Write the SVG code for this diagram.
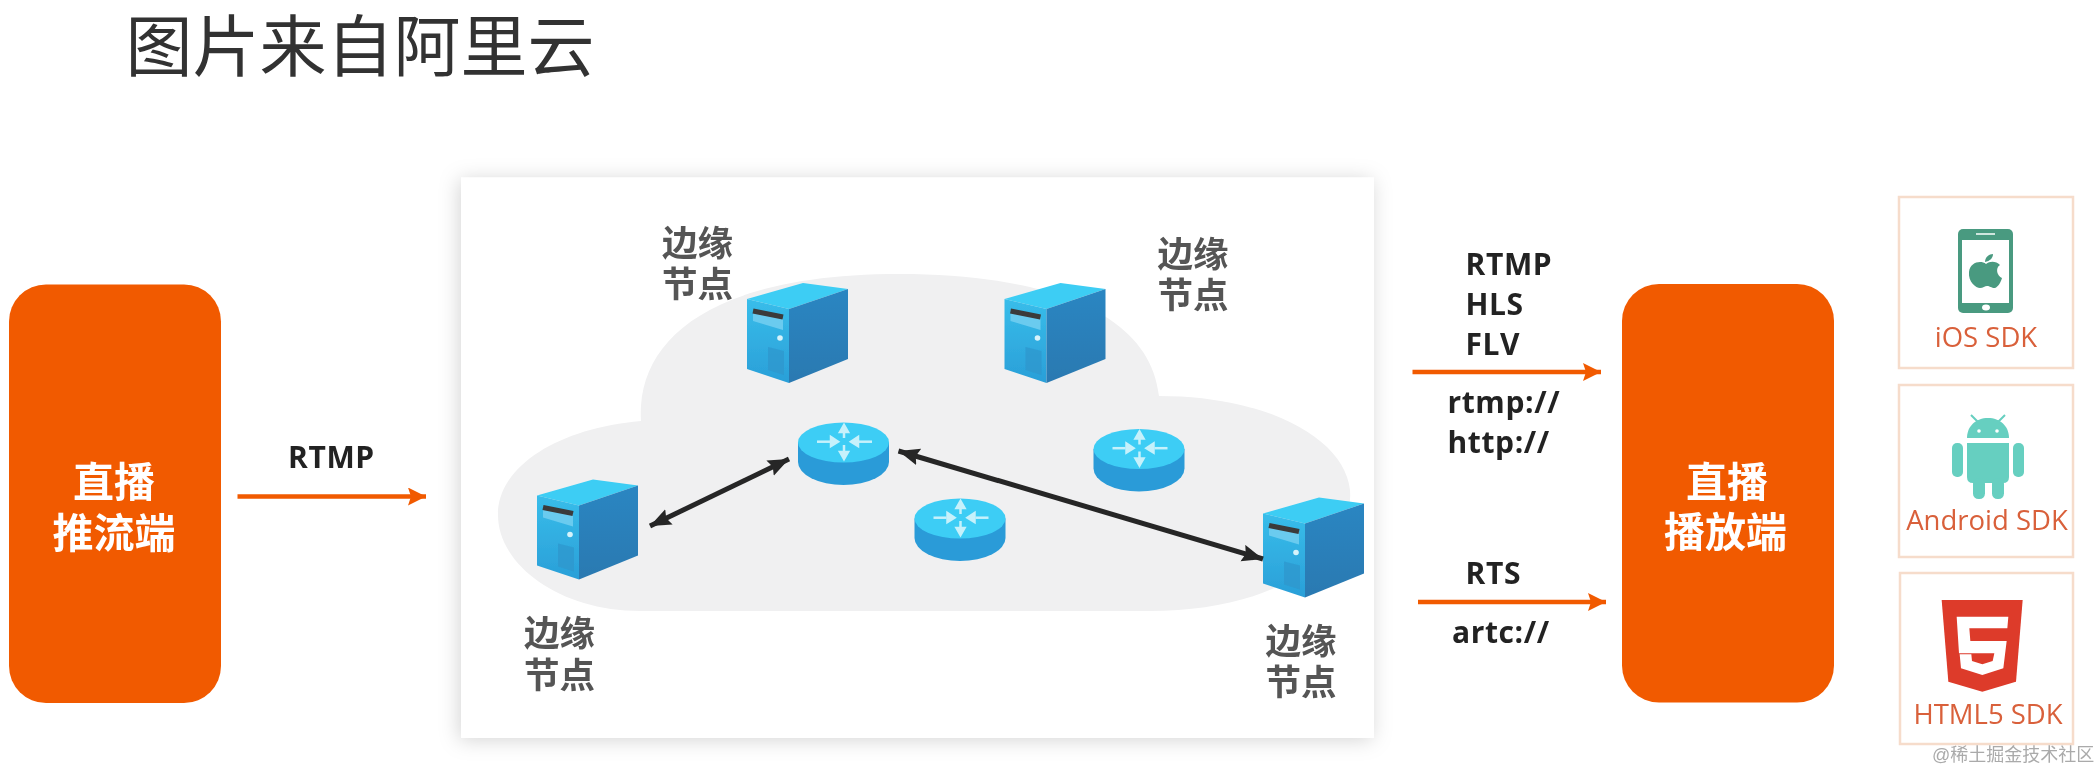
<svg xmlns="http://www.w3.org/2000/svg" xmlns:xlink="http://www.w3.org/1999/xlink" width="2098" height="771" viewBox="0 0 2098 771">
<style>
text{font-family:"Liberation Sans","Noto Sans CJK SC",sans-serif}
.title{font-size:67px;fill:#333}
.side{font-size:41px;font-weight:700;fill:#fff;text-anchor:middle}
.edge{font-size:35.5px;font-weight:700;fill:#555;text-anchor:middle}
.proto{font-family:"Open Sans","Noto Sans",sans-serif;font-size:30px;font-weight:700;fill:#222;letter-spacing:.6px}
.sdk{font-family:"Open Sans","Noto Sans",sans-serif;font-size:27.5px;font-weight:500;fill:#d9603a;text-anchor:middle}
.box{fill:#f15a06}
.card{fill:#fff;stroke:#f6dccb;stroke-width:2.5}
.orange{stroke:#f15a06;stroke-width:4.5;fill:none}
.dark{stroke:#262626;stroke-width:5;fill:none}
</style>
<defs>
<filter id="soft" x="-2%" y="-2%" width="104%" height="104%"><feGaussianBlur stdDeviation="0.6"/></filter>
<filter id="shadow" x="-8%" y="-8%" width="116%" height="116%"><feDropShadow dx="-2" dy="2" stdDeviation="10" flood-color="#000" flood-opacity="0.17"/></filter>
<linearGradient id="front" x1="0" y1="0" x2="0" y2="1"><stop offset="0" stop-color="#38bdea"/><stop offset="1" stop-color="#2a9fd8"/></linearGradient>
<linearGradient id="side" x1="0" y1="0" x2="0" y2="1"><stop offset="0" stop-color="#2b86c2"/><stop offset="1" stop-color="#2a79b1"/></linearGradient>
<marker id="oh" markerUnits="userSpaceOnUse" markerWidth="20" markerHeight="20" refX="18" refY="9" orient="auto"><path d="M0 0L18 9L0 18L3 9Z" fill="#f15a06"/></marker>
<marker id="dh" markerUnits="userSpaceOnUse" markerWidth="24" markerHeight="18" refX="21" refY="8.500" orient="auto-start-reverse"><path d="M0 0L21 8.500L0 17L3 8.500Z" fill="#262626"/></marker>
<g id="server">
<path d="M0 16L56 0L101 6L42 26Z" fill="#3ccdf4"/>
<path d="M0 16L42 26V100L0 86Z" fill="url(#front)"/>
<path d="M42 26L101 6V76L42 100Z" fill="url(#side)"/>
<path d="M6 27L36 34V47L6 38Z" fill="#6bcbef"/>
<path d="M6 28L36 34" stroke="#3a3a3a" stroke-width="5"/>
<circle cx="33" cy="55" r="2.800" fill="#d6f3fb"/>
<path d="M21 64L37 68V92L21 87Z" fill="#2f96cc" opacity=".7"/>
</g>
<g id="router">
<path d="M798 442.500V462A45.500 23 0 0 0 889 462V442.500Z" fill="#2a9bd8"/>
<ellipse cx="843.500" cy="442.500" rx="45.500" ry="20" fill="#3dcdf5"/>
<g fill="#c6f1fb" stroke="#c6f1fb" stroke-width="2.500">
<path d="M817 441.700H830" /><path d="M831 437L838 441.700L831 446Z"/>
<path d="M872 441.700H859" /><path d="M858 437L851 441.700L858 446Z"/>
<path d="M844 438V431" /><path d="M840 432L844 425L848 432Z"/>
<path d="M844 445V452" /><path d="M840 452L844 459L848 452Z"/>
</g>
</g>
</defs>
<rect width="2098" height="771" fill="#fff"/>
<g filter="url(#soft)">
<text class="title" x="125.500" y="71">图片来自阿里云</text>

<g id="push">
<rect class="box" x="9" y="284.500" width="212" height="418.500" rx="37"/>
<text class="side" x="114" y="497">直播<tspan x="114" dy="51">推流端</tspan></text>
</g>

<g id="cdn">
<rect x="461" y="177.500" width="913" height="560.500" fill="#fff" filter="url(#shadow)"/>
<path d="M641 421C636 340 710 274 900 274C1040 274 1150 310 1159 396C1270 396 1345 440 1350 490C1355 560 1270 611 1150 611H640C560 611 498 565 498 515C498 465 560 428 641 421Z" fill="#f0f0f1"/>
</g>

<g id="node-top-left"><use href="#server" x="747" y="283"/><text class="edge" x="697.500" y="256">边缘<tspan x="697.500" dy="41">节点</tspan></text></g>
<g id="node-top-right"><use href="#server" x="1004.500" y="283"/><text class="edge" x="1193" y="267">边缘<tspan x="1193" dy="41">节点</tspan></text></g>
<g id="node-left"><use href="#server" x="537" y="479.500"/><text class="edge" x="559.500" y="646">边缘<tspan x="559.500" dy="42">节点</tspan></text></g>
<g id="node-right"><use href="#server" x="1263" y="497.500"/><text class="edge" x="1301" y="654">边缘<tspan x="1301" dy="41">节点</tspan></text></g>

<g id="router-1"><use href="#router"/></g>
<g id="router-2"><use href="#router" x="295.500" y="6.500"/></g>
<g id="router-3"><use href="#router" x="116.500" y="76"/></g>

<g id="connectors">
<path class="orange" d="M237.500 496.500H426" marker-end="url(#oh)"/>
<path class="orange" d="M1412.500 372H1601" marker-end="url(#oh)"/>
<path class="orange" d="M1418 602H1606" marker-end="url(#oh)"/>
<path class="dark" d="M789 459L650 526" marker-start="url(#dh)" marker-end="url(#dh)"/>
<path class="dark" d="M898.500 451L1263 559" marker-start="url(#dh)" marker-end="url(#dh)"/>
</g>

<text class="proto" x="288" y="468">RTMP</text>
<text class="proto" x="1465.500" y="275">RTMP</text>
<text class="proto" x="1465.500" y="315">HLS</text>
<text class="proto" x="1465.500" y="355">FLV</text>
<text class="proto" x="1447.500" y="413">rtmp://</text>
<text class="proto" x="1447.500" y="453">http://</text>
<text class="proto" x="1465.500" y="584">RTS</text>
<text class="proto" x="1452" y="643">artc://</text>

<g id="player">
<rect class="box" x="1622" y="284" width="212" height="418.500" rx="37"/>
<text class="side" x="1727" y="497">直播<tspan x="1725.500" dy="50">播放端</tspan></text>
</g>

<g id="ios-sdk">
<rect class="card" x="1899" y="197" width="174" height="171"/>
<rect x="1958" y="229" width="55" height="84" rx="5" fill="#4a9a80"/>
<rect x="1962" y="240" width="47" height="63" fill="#fff"/>
<rect x="1976" y="233" width="19" height="2" fill="#cfe6de"/>
<ellipse cx="1986" cy="307.500" rx="4" ry="3" fill="#fff"/>
<path d="M1986 264C1981 260 1970 262 1969 272C1968 282 1976 288 1980 288C1983 288 1985 286 1987 286C1990 286 1991 288 1995 288C1998 287 2001 282 2002 278C1997 276 1995 268 2000 265C1996 261 1990 261 1986 264Z" fill="#4a9a80"/>
<path d="M1985 262C1985 257 1989 254 1993 254C1993 258 1990 261 1985 262Z" fill="#4a9a80"/>
<text class="sdk" x="1986" y="347">iOS SDK</text>
</g>

<g id="android-sdk">
<rect class="card" x="1899" y="385" width="174" height="172"/>
<g fill="#66cfc0">
<path d="M1967 438C1967 426 1976 418 1988 418C2000 418 2009 426 2009 438Z"/>
<path d="M1967 443H2009V477Q2009 483 2003 483H1973Q1967 483 1967 477Z"/>
<rect x="1952" y="443" width="11" height="34" rx="5"/>
<rect x="2013" y="443" width="11" height="34" rx="5"/>
<rect x="1973" y="478" width="12" height="21" rx="5.500"/>
<rect x="1992" y="478" width="12" height="21" rx="5.500"/>
</g>
<path d="M1978 422L1971 415M1998 422L2005 415" stroke="#66cfc0" stroke-width="2"/>
<circle cx="1979" cy="431" r="1.800" fill="#fff"/><circle cx="1997" cy="431" r="1.800" fill="#fff"/>
<text class="sdk" x="1987" y="530">Android SDK</text>
</g>

<g id="html5-sdk">
<rect class="card" x="1900" y="573" width="173" height="171"/>
<g transform="translate(1890 560) scale(.33333)">
<path d="M155 120H398L378 365L277 395L175 365Z" fill="#dd3a2a"/>
<path fill="#fff" d="M200 170H355L352 205H238L241 243H350L340 325L277 345L213 325L209 283H244L246 303L277 313L308 303L313 280H207Z"/>
</g>
<text class="sdk" x="1988" y="724">HTML5 SDK</text>
</g>

<text x="1932" y="761" font-size="18" fill="#aaa">@稀土掘金技术社区</text>
</g>
</svg>
